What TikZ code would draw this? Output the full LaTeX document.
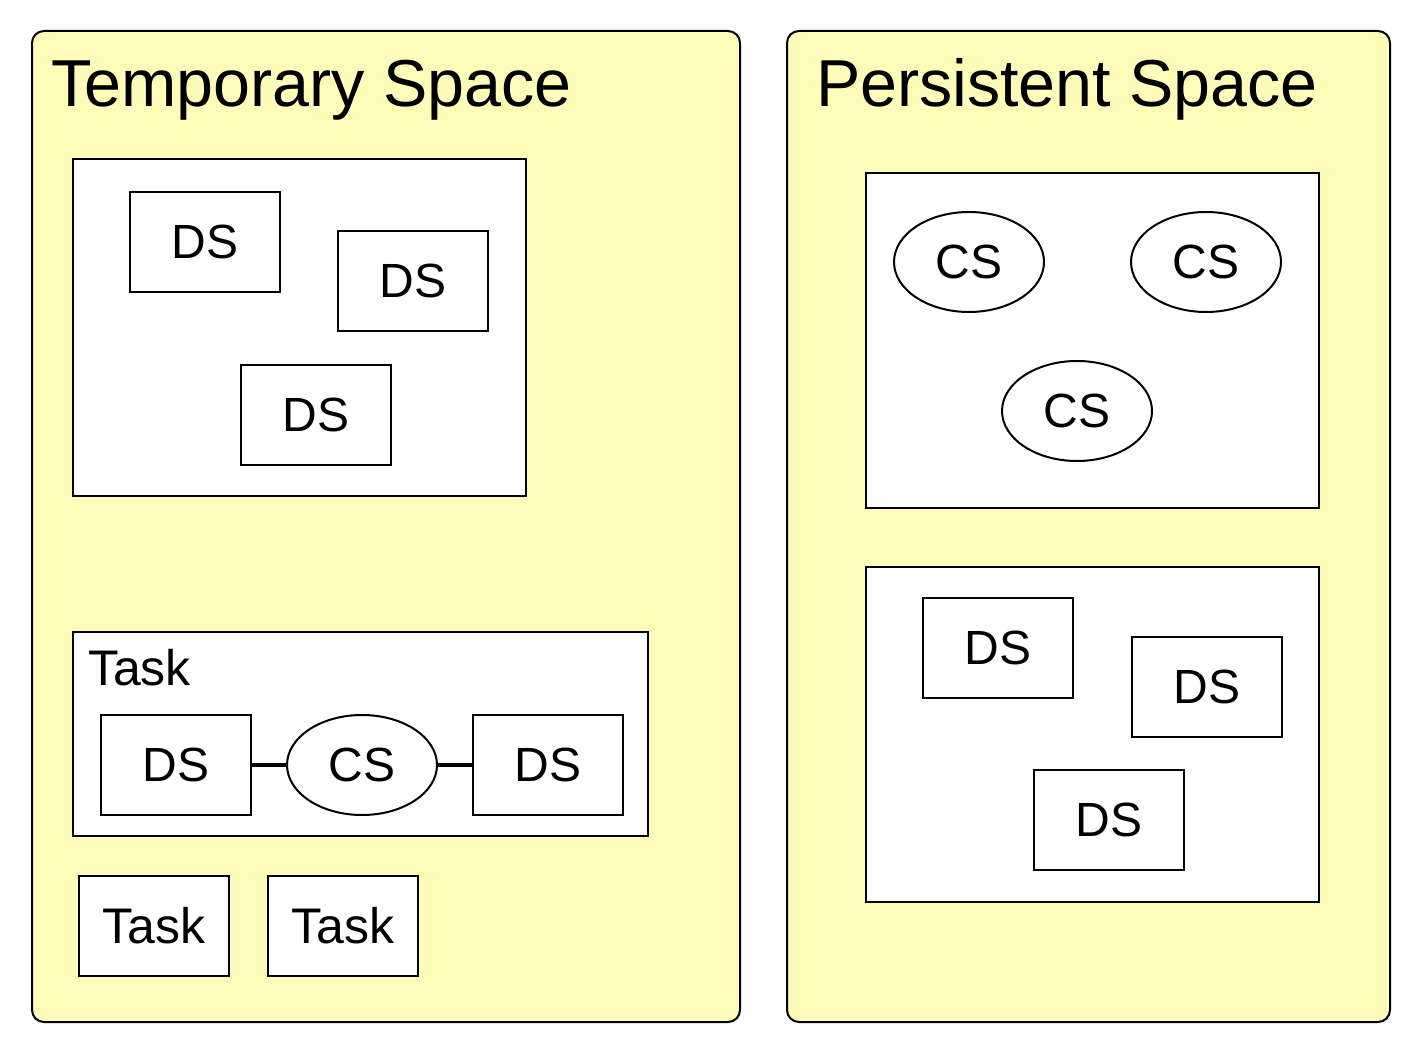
\documentclass[tikz,border=0pt]{standalone}
\usepackage{fontspec}
\setsansfont{Liberation Sans}
\usepackage{tikz}
\usetikzlibrary{shapes.geometric}

\definecolor{spaceyellow}{HTML}{FFFCBA}

\begin{document}
\begin{tikzpicture}[x=0.5pt,y=-0.5pt,font=\sffamily,line width=1pt,
    panel/.style={draw=black,fill=spaceyellow,rounded corners=6pt},
    group/.style={draw=black,fill=white},
    ds/.style={draw=black,fill=white,rectangle,inner sep=0pt,minimum width=75pt,minimum height=50pt,font=\sffamily\fontsize{24}{28}\selectfont},
    cs/.style={draw=black,fill=white,ellipse,inner sep=0pt,minimum width=75pt,minimum height=50pt,font=\sffamily\fontsize{24}{28}\selectfont},
    task/.style={ds,font=\sffamily\fontsize{25}{30}\selectfont},
    title/.style={anchor=base west,inner sep=0pt,font=\sffamily\fontsize{33.2}{38}\selectfont},
    link/.style={line width=2pt}]
    \useasboundingbox (0,0) rectangle (1422,1052);

    % temporary space
    \draw[panel] (32,31) rectangle (740,1022);
    \node[title] (ttitle) at (50,107) {Temporary Space};
    \draw[group] (73,159) rectangle (526,496);
    \node[ds] (tds1) at (205,242) {DS};
    \node[ds] (tds2) at (413,281) {DS};
    \node[ds] (tds3) at (316,415) {DS};

    \draw[group] (73,632) rectangle (648,836);
    \node[title,font=\sffamily\fontsize{25}{30}\selectfont] (tasklabel) at (87,685) {Task};
    \node[ds] (kds1) at (176,765) {DS};
    \node[cs] (kcs) at (362,765) {CS};
    \node[ds] (kds2) at (548,765) {DS};
    \draw[link] (kds1) -- (kcs);
    \draw[link] (kcs) -- (kds2);

    \node[task] (task1) at (154,926) {Task};
    \node[task] (task2) at (343,926) {Task};

    % persistent space
    \draw[panel] (787,31) rectangle (1390,1022);
    \node[title] (ptitle) at (815,107) {Persistent Space};
    \draw[group] (866,173) rectangle (1319,508);
    \node[cs] (pcs1) at (969,262) {CS};
    \node[cs] (pcs2) at (1206,262) {CS};
    \node[cs] (pcs3) at (1077,411) {CS};

    \draw[group] (866,567) rectangle (1319,902);
    \node[ds] (pds1) at (998,648) {DS};
    \node[ds] (pds2) at (1207,687) {DS};
    \node[ds] (pds3) at (1109,820) {DS};
\end{tikzpicture}
\end{document}
